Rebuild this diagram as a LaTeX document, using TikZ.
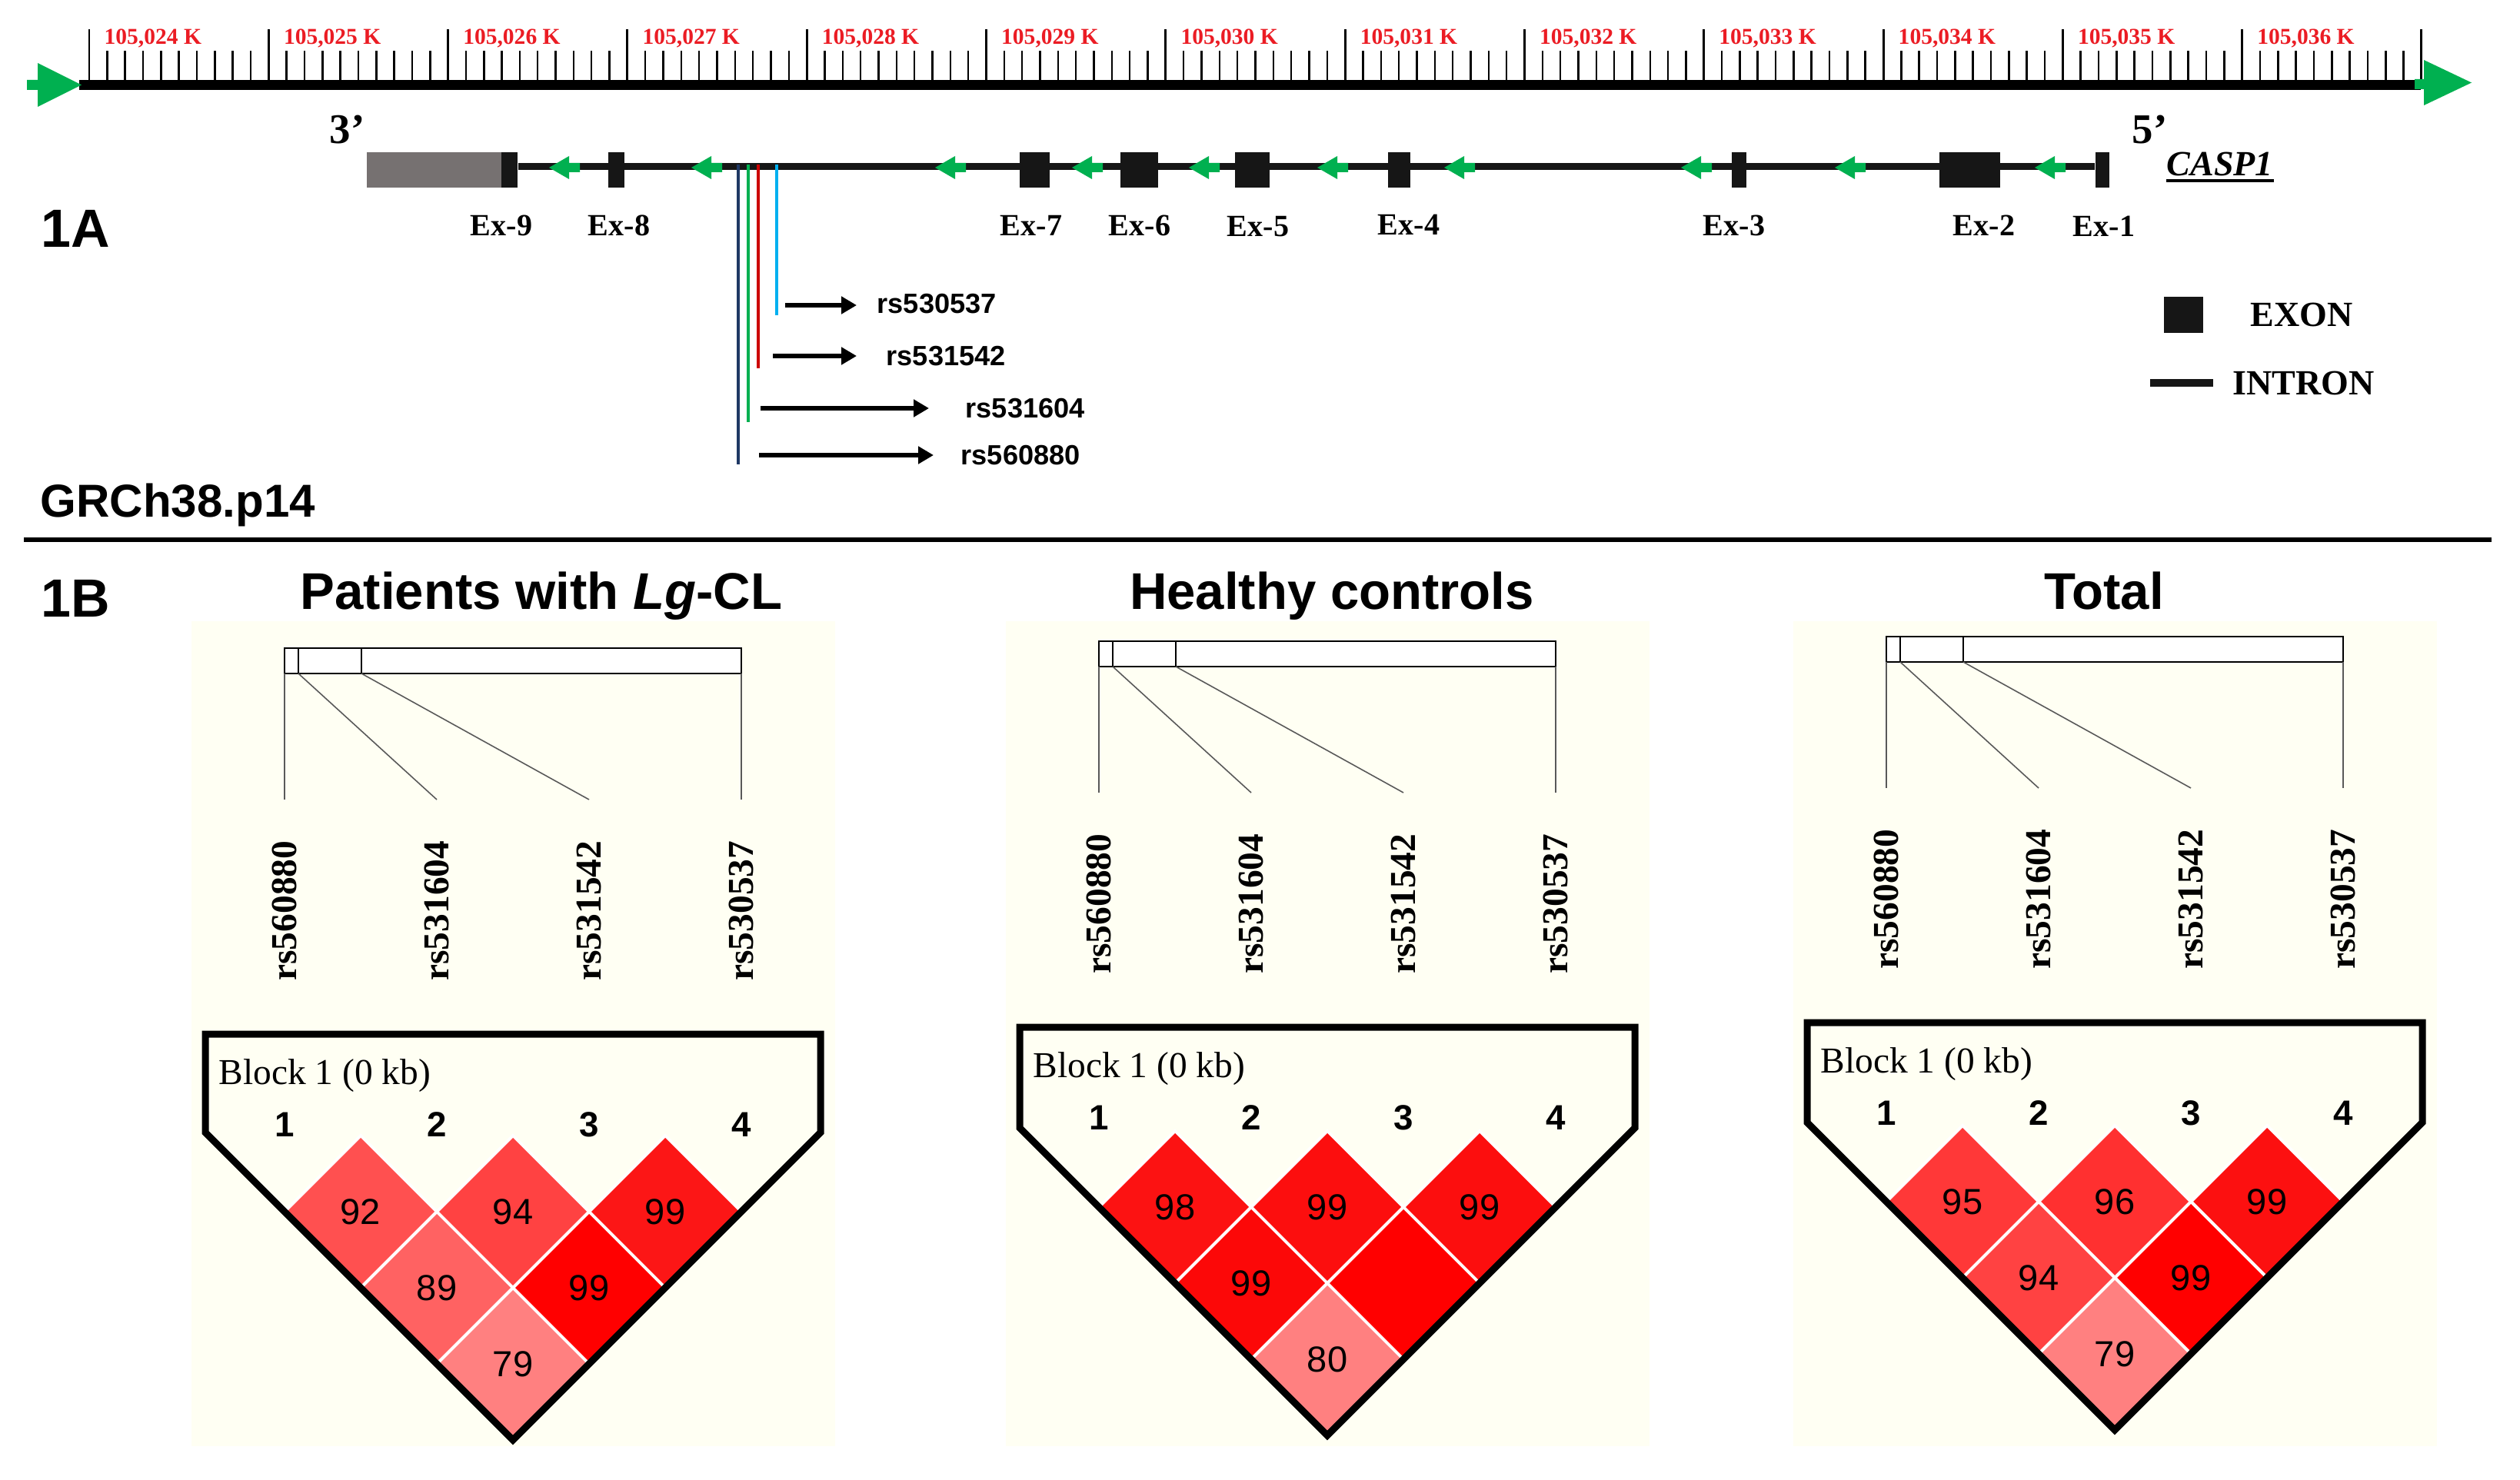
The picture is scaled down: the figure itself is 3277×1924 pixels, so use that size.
\documentclass[tikz,border=0pt]{standalone}
\usepackage{fontspec}
\setmainfont{Liberation Serif}
\setsansfont{Liberation Sans}
\usetikzlibrary{arrows.meta}
\definecolor{ggreen}{RGB}{0,176,80}
\definecolor{tickred}{RGB}{235,28,36}
\definecolor{utr}{RGB}{118,113,113}
\definecolor{exonblk}{RGB}{22,22,22}
\definecolor{navyln}{RGB}{31,56,100}
\definecolor{greenln}{RGB}{0,176,80}
\definecolor{redln}{RGB}{204,0,0}
\definecolor{blueln}{RGB}{0,176,240}
\definecolor{panelbg}{RGB}{255,255,243}

% LD map header of one panel: #1 cx, #2 Ytop, #3 prefix
\newcommand\ldtop[3]{%
  \pgfmathsetmacro\mka{#1-297}\pgfmathsetmacro\mkb{#1-99}%
  \pgfmathsetmacro\mkc{#1+99}\pgfmathsetmacro\mkd{#1+297}%
  \pgfmathsetmacro\rtop{#2-502}\pgfmathsetmacro\rbot{#2-469}%
  \pgfmathsetmacro\lend{#2-305}\pgfmathsetmacro\ltop{#2-252}%
  \pgfmathsetmacro\nrow{#2+118}\pgfmathsetmacro\brow{#2+65}%
  \draw[maprect,fill=white] (\mka,\rtop) rectangle (\mkd,\rbot);
  \draw[maprect] ({\mka+18},\rtop) -- ({\mka+18},\rbot);
  \draw[maprect] ({\mka+100},\rtop) -- ({\mka+100},\rbot);
  \coordinate (#3a1) at (\mka,\rbot);
  \coordinate (#3a2) at ({\mka+18},\rbot);
  \coordinate (#3a3) at ({\mka+100},\rbot);
  \coordinate (#3a4) at (\mkd,\rbot);
  \coordinate (#3b1) at (\mka,\lend);
  \coordinate (#3b2) at (\mkb,\lend);
  \coordinate (#3b3) at (\mkc,\lend);
  \coordinate (#3b4) at (\mkd,\lend);
  \draw[mapline] (#3a1) -- (#3b1);
  \draw[mapline] (#3a2) -- (#3b2);
  \draw[mapline] (#3a3) -- (#3b3);
  \draw[mapline] (#3a4) -- (#3b4);
  \node[vlab] (#3r1) at (\mka,\ltop) {rs560880};
  \node[vlab] (#3r2) at (\mkb,\ltop) {rs531604};
  \node[vlab] (#3r3) at (\mkc,\ltop) {rs531542};
  \node[vlab] (#3r4) at (\mkd,\ltop) {rs530537};
  \node[blocklab] (#3blk) at ({#1-383},\brow) {Block 1 (0 kb)};
  \node[mnum] (#3n1) at (\mka,\nrow) {1};
  \node[mnum] (#3n2) at (\mkb,\nrow) {2};
  \node[mnum] (#3n3) at (\mkc,\nrow) {3};
  \node[mnum] (#3n4) at (\mkd,\nrow) {4};
}
% one LD diamond: #1 cx, #2 Y1, #3 i, #4 j, #5 RGB, #6 label, #7 name
\newcommand\ldd[7]{%
  \pgfmathsetmacro\ddx{#1+(#3+#4-5)*99}%
  \pgfmathsetmacro\ddy{#2+(#4-#3-1)*99}%
  \definecolor{dcol}{RGB}{#5}%
  \filldraw[fill=dcol,draw=white,line width=1.1pt]
    (\ddx,{\ddy-99}) -- ({\ddx+99},\ddy) -- (\ddx,{\ddy+99}) -- ({\ddx-99},\ddy) -- cycle;
  \node[dnum] (#7) at (\ddx,\ddy) {#6};
}
% outline: #1 cx, #2 Ytop, #3 Ybot
\newcommand\ldoutline[3]{%
  \draw[ldout] ({#1-400},#2) -- ({#1+400},#2) -- ({#1+400},{#3-400})
    -- (#1,#3) -- ({#1-400},{#3-400}) -- cycle;
}

\begin{document}
\begin{tikzpicture}[x=0.1mm,y=-0.1mm,
  ticklab/.style={text=tickred,font=\fontsize{8.4}{9}\selectfont\bfseries,anchor=base west,inner sep=0pt},
  exonbox/.style={fill=exonblk,inner sep=0pt,minimum height=4.6mm},
  exlab/.style={font=\fontsize{11.4}{12}\selectfont\bfseries,anchor=base,inner sep=0pt},
  endlab/.style={font=\fontsize{15.6}{16}\selectfont\bfseries,anchor=base west,inner sep=0pt},
  gene/.style={line width=2.56pt,draw=exonblk},
  snp/.style={line width=0.9pt},
  rsarrow/.style={line width=1.5pt,-{Triangle[length=2mm,width=2.2mm]}},
  rslab/.style={font=\fontsize{10.3}{11}\selectfont\sffamily\bfseries,anchor=base west,inner sep=0pt},
  leglab/.style={font=\fontsize{13.1}{14}\selectfont\bfseries,anchor=base west,inner sep=0pt},
  panlab/.style={font=\fontsize{19.9}{21}\selectfont\sffamily\bfseries,anchor=base west,inner sep=0pt},
  ptitle/.style={font=\fontsize{19.1}{20}\selectfont\sffamily\bfseries,anchor=base,inner sep=0pt},
  maprect/.style={draw=black,line width=0.6pt},
  mapline/.style={draw=black!65,line width=0.45pt},
  vlab/.style={font=\fontsize{13.5}{14}\selectfont\bfseries,rotate=90,anchor=east,inner sep=0pt},
  mnum/.style={font=\fontsize{13}{14}\selectfont\sffamily\bfseries,inner sep=0pt},
  blocklab/.style={font=\fontsize{13.5}{14}\selectfont,anchor=base west,inner sep=0pt},
  dnum/.style={font=\fontsize{13.4}{14}\selectfont\sffamily,inner sep=0pt},
  ldout/.style={draw=black,line width=2.56pt,line join=miter}
]
\useasboundingbox (0,0) rectangle (3277,1924);
\fill[white] (0,0) rectangle (3277,1924);

% ---------------- 1A: ruler ----------------
\fill[black] (103,104) rectangle (3148,117);
\foreach \i in {0,...,13}{
  \draw[line width=0.85pt] ({116+233.3*\i},104) -- ({116+233.3*\i},38);
}
\foreach \i in {0,...,12}{
  \foreach \j in {1,...,9}{
    \draw[line width=0.7pt] ({116+233.3*\i+23.33*\j},104) -- ({116+233.3*\i+23.33*\j},66);
  }
  \pgfmathtruncatemacro\kk{24+\i}
  \node[ticklab] (tk\i) at ({135+233.3*\i},58) {105,0\kk\ K};
}
\fill[ggreen] (35,104) -- (49,104) -- (49,82) -- (106,110.5) -- (49,139) -- (49,117) -- (35,117) -- cycle;
\fill[ggreen] (3140,103) -- (3152,103) -- (3152,78) -- (3214,107.5) -- (3152,137) -- (3152,116) -- (3140,116) -- cycle;

% ---------------- 1A: gene ----------------
\node[endlab] (p3) at (428,187) {3’};
\node[endlab] (p5) at (2772,187) {5’};
\node[exonbox,minimum width=17.5mm,fill=utr] (utr) at (564.5,221.5) {};
\node[exonbox,minimum width=2.1mm] (e9) at (662.5,221.5) {};
\node[exonbox,minimum width=2.1mm] (e8) at (801.5,221.5) {};
\node[exonbox,minimum width=3.9mm] (e7) at (1345.5,221.5) {};
\node[exonbox,minimum width=4.9mm] (e6) at (1481.5,221.5) {};
\node[exonbox,minimum width=4.5mm] (e5) at (1628.5,221.5) {};
\node[exonbox,minimum width=2.9mm] (e4) at (1819.5,221.5) {};
\node[exonbox,minimum width=1.9mm] (e3) at (2261.5,221.5) {};
\node[exonbox,minimum width=7.9mm] (e2) at (2561.5,221.5) {};
\node[exonbox,minimum width=1.8mm] (e1) at (2734,221.5) {};
\draw[gene] ([yshift=0.45mm]e9.east) -- ([yshift=0.45mm]e1.west);
\foreach \t in {714,899,1216,1394,1546,1713,1878,2186,2386,2646}{
  \fill[ggreen] (\t,218) -- ({\t+26},203) -- ({\t+26},212) -- ({\t+40},212)
     -- ({\t+40},224) -- ({\t+26},224) -- ({\t+26},233) -- cycle;
}
\node[exlab] (x9) at (652,307) {Ex-9};
\node[exlab] (x8) at (805,307) {Ex-8};
\node[exlab] (x7) at (1341,307) {Ex-7};
\node[exlab] (x6) at (1482,307) {Ex-6};
\node[exlab] (x5) at (1636,308) {Ex-5};
\node[exlab] (x4) at (1832,306) {Ex-4};
\node[exlab] (x3) at (2255,307) {Ex-3};
\node[exlab] (x2) at (2580,307) {Ex-2};
\node[exlab] (x1) at (2736,308) {Ex-1};
\node[font=\fontsize{13.1}{14}\selectfont\bfseries\itshape,anchor=base west,inner sep=0pt] (casp) at (2817,229) {CASP1};
\draw[line width=1.2pt] ([yshift=-0.6mm]casp.base west) -- ([yshift=-0.6mm]casp.base east);

% SNP positions
\coordinate (s4t) at (960,214);  \coordinate (s4b) at (960,604);
\coordinate (s3t) at (973,214);  \coordinate (s3b) at (973,549);
\coordinate (s2t) at (986,214);  \coordinate (s2b) at (986,479);
\coordinate (s1t) at (1010,214); \coordinate (s1b) at (1010,410);
\draw[snp,navyln] (s4t) -- (s4b);
\draw[snp,greenln] (s3t) -- (s3b);
\draw[snp,redln] (s2t) -- (s2b);
\draw[snp,blueln] (s1t) -- (s1b);
\node[rslab] (l1) at (1140,408) {rs530537};
\node[rslab] (l2) at (1152,475) {rs531542};
\node[rslab] (l3) at (1255,543) {rs531604};
\node[rslab] (l4) at (1249,604) {rs560880};
\coordinate (a1) at (1021,397);
\coordinate (a2) at (1005,463);
\coordinate (a3) at (989,531);
\coordinate (a4) at (987,592);
\draw[rsarrow,shorten >=2.6mm] (a1) -- (a1 -| l1.west);
\draw[rsarrow,shorten >=3.8mm] (a2) -- (a2 -| l2.west);
\draw[rsarrow,shorten >=4.7mm] (a3) -- (a3 -| l3.west);
\draw[rsarrow,shorten >=3.5mm] (a4) -- (a4 -| l4.west);

% legend
\node[exonbox,minimum width=5.1mm,minimum height=4.7mm] (legex) at (2839.5,409.5) {};
\node[leglab] (exontxt) at (2926,425) {EXON};
\coordinate (ia) at (2796,498);
\coordinate (ib) at (2878,498);
\draw[line width=3.1pt,exonblk] (ia) -- (ib);
\node[leglab] (introntxt) at (2903,513) {INTRON};

\node[panlab] (lab1a) at (53,322) {1A};
\node[font=\fontsize{17.1}{18}\selectfont\sffamily\bfseries,anchor=base west,inner sep=0pt] (grch) at (52,672) {GRCh38.p14};

\coordinate (sepl) at (31,702);
\coordinate (sepr) at (3240,702);
\draw[line width=1.7pt] (sepl) -- (sepr);

% ---------------- 1B ----------------
\node[panlab] (lab1b) at (53,802) {1B};
\node[ptitle] (t1) at (704,792) {Patients with \textit{Lg}-CL};
\node[ptitle] (t2) at (1732,792) {Healthy controls};
\node[ptitle] (t3) at (2736,792) {Total};

\fill[panelbg] (249,808) rectangle (1086,1881);
\fill[panelbg] (1308,808) rectangle (2145,1881);
\fill[panelbg] (2332,808) rectangle (3169,1881);

% panel 1
\ldtop{667}{1345}{pa}
\ldd{667}{1576}{1}{2}{255,80,80}{92}{pad12}
\ldd{667}{1576}{2}{3}{255,66,66}{94}{pad23}
\ldd{667}{1576}{3}{4}{252,22,22}{99}{pad34}
\ldd{667}{1576}{1}{3}{255,98,98}{89}{pad13}
\ldd{667}{1576}{2}{4}{255,0,0}{99}{pad24}
\ldd{667}{1576}{1}{4}{255,128,128}{79}{pad14}
\ldoutline{667}{1345}{1873}

% panel 2
\ldtop{1726}{1336}{pb}
\ldd{1726}{1570}{1}{2}{252,18,18}{98}{pbd12}
\ldd{1726}{1570}{2}{3}{252,14,14}{99}{pbd23}
\ldd{1726}{1570}{3}{4}{252,14,14}{99}{pbd34}
\ldd{1726}{1570}{1}{3}{252,8,8}{99}{pbd13}
\ldd{1726}{1570}{2}{4}{255,0,0}{}{pbd24}
\ldd{1726}{1570}{1}{4}{255,128,128}{80}{pbd14}
\ldoutline{1726}{1336}{1867}

% panel 3
\ldtop{2750}{1330}{pc}
\ldd{2750}{1563}{1}{2}{255,56,56}{95}{pcd12}
\ldd{2750}{1563}{2}{3}{255,48,48}{96}{pcd23}
\ldd{2750}{1563}{3}{4}{252,16,16}{99}{pcd34}
\ldd{2750}{1563}{1}{3}{255,66,66}{94}{pcd13}
\ldd{2750}{1563}{2}{4}{255,0,0}{99}{pcd24}
\ldd{2750}{1563}{1}{4}{255,128,128}{79}{pcd14}
\ldoutline{2750}{1330}{1860}
\end{tikzpicture}
\end{document}
